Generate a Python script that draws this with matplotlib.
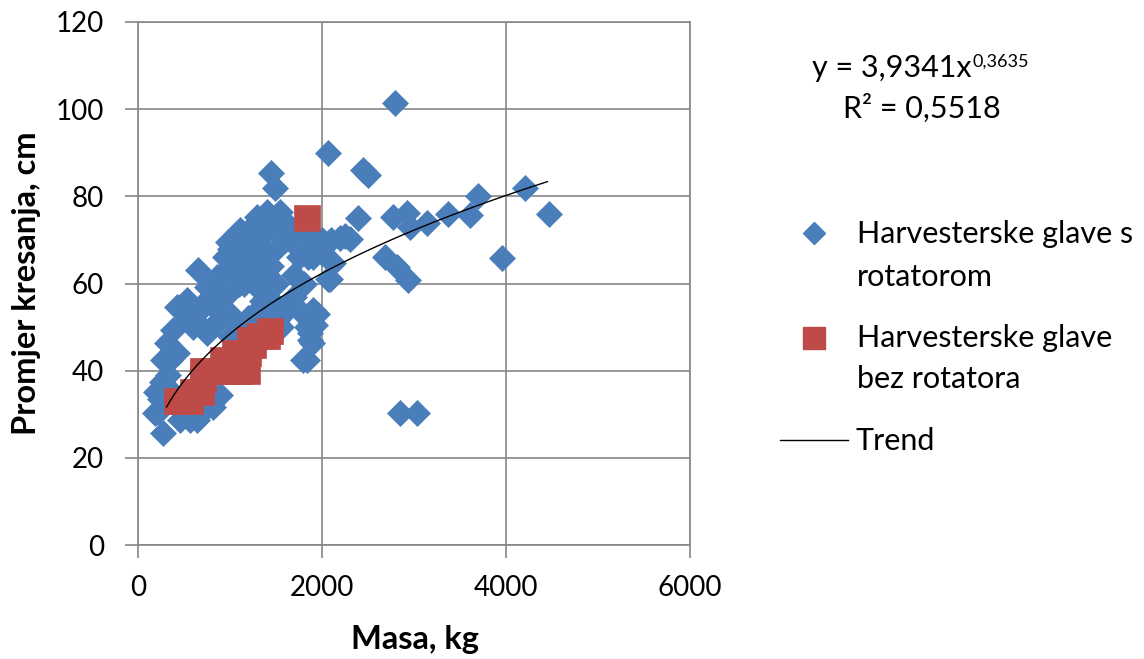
import numpy as np
import matplotlib
matplotlib.use("Agg")
import matplotlib.pyplot as plt
from matplotlib.lines import Line2D

plt.rcParams['font.family'] = ['Lato', 'DejaVu Sans']

# ---------------- data ----------------
# Harvesterske glave s rotatorom (mass kg, diameter cm)
blue_x = [272, 217, 240, 200, 180, 300, 348, 260, 330, 457, 565, 641, 750, 815, 891,
          380, 315, 348, 272, 424, 457, 533, 641, 750, 652, 533, 424, 750, 859, 978,
          1109, 1293, 1402, 1489, 1543, 1450,
          600, 700, 700, 800, 800, 800, 900, 900, 900, 1000, 1000, 1000, 1000, 1000,
          1100, 1100, 1100, 1100, 1200, 1200, 1200, 1200, 1300, 1300, 1300, 1300, 1300,
          1400, 1400, 1400, 1400, 1500, 1500, 1500, 1500, 1600, 1600, 1550,
          1700, 1700, 1700, 1800, 1800, 1900, 1900, 1620, 1511, 1794, 1870, 1794, 1891,
          1900, 1837, 1946, 1870, 1837, 1924, 2000, 2060, 2120, 2090, 2000, 2100, 2200,
          2300, 2250, 1980, 1850,
          2066, 2446, 2500, 2392, 2772, 2924, 2957, 3141, 3370, 3609, 3696, 4207, 4468,
          3957, 2685, 2815, 2935, 2848, 3033, 2794, 1000, 1200,
          1350, 1450, 1250, 1050, 950, 850, 1150, 1350, 1250, 1450, 1650, 1750]
blue_y = [25.7, 30.5, 33.5, 35.0, 30.3, 34.0, 35.6, 37.5, 39.0, 28.7, 28.7, 28.7, 31.7, 31.7, 34.4,
          49.3, 46.3, 42.4, 42.4, 44.0, 54.6, 51.6, 53.2, 48.6, 63.0, 56.2, 54.6, 59.2, 61.5, 69.6,
          72.3, 75.3, 76.4, 82.0, 76.4, 85.3,
          50.0, 55.0, 50.0, 60.0, 55.0, 50.0, 62.0, 57.0, 52.0, 68.0, 63.0, 58.0, 53.0, 48.0,
          70.0, 65.0, 60.0, 50.0, 72.0, 67.0, 62.0, 52.0, 74.0, 69.0, 64.0, 59.0, 54.0,
          72.0, 67.0, 62.0, 57.0, 73.0, 68.0, 60.0, 55.0, 74.0, 70.0, 50.0,
          72.0, 62.0, 57.0, 70.0, 60.0, 70.0, 66.0, 54.0, 51.6, 53.0, 48.6, 42.4, 46.3,
          54.0, 50.0, 53.0, 47.0, 42.5, 50.5, 70.0, 61.0, 64.7, 61.0, 67.0, 70.0, 70.5,
          70.3, 71.0, 67.7, 66.0,
          90.0, 86.0, 85.0, 75.0, 75.3, 76.2, 73.0, 73.9, 76.0, 75.7, 80.0, 82.0, 76.0,
          65.9, 66.0, 63.8, 60.8, 30.3, 30.3, 101.4, 64.0, 70.0,
          66.0, 64.0, 70.0, 71.0, 66.0, 58.0, 60.0, 56.0, 48.0, 51.0, 70.0, 66.0]

# Harvesterske glave bez rotatora
red_x = [424, 500, 565, 600, 680, 707, 707, 800, 924, 924, 1000, 1100, 1185, 1050,
         1200, 1250, 1217, 1326, 1402, 1435, 1837]
red_y = [33.0, 33.0, 33.0, 35.0, 35.0, 38.0, 40.0, 40.0, 42.5, 40.0, 41.0, 40.0, 40.0, 44.0,
         44.0, 46.0, 47.0, 48.0, 48.0, 49.0, 75.0]

# power trend: y = a * x^b
trend_a = 3.9341
trend_b = 0.3635
trend_x_min = 310
trend_x_max = 4450

x_ticks = [0, 2000, 4000, 6000]
y_ticks = [0, 20, 40, 60, 80, 100, 120]

label_blue = ["Harvesterske glave s", "rotatorom"]
label_red = ["Harvesterske glave", "bez rotatora"]

# ---------------- figure ----------------
W, H = 1144, 659
fig = plt.figure(figsize=(W / 100, H / 100), dpi=100)
ax = fig.add_axes([138 / W, 1 - 545 / H, (690 - 138) / W, (545 - 22) / H])

blue = '#4A7EBB'
red = '#BE4B48'
grid_c = '#868686'

ax.plot(blue_x, blue_y, linestyle='none', marker='D', markersize=13.5,
        markerfacecolor=blue, markeredgecolor=blue, markeredgewidth=0.5, zorder=3)
ax.plot(red_x, red_y, linestyle='none', marker='s', markersize=19,
        markerfacecolor=red, markeredgecolor=red, markeredgewidth=0.5, zorder=4)

tx = np.linspace(trend_x_min, trend_x_max, 300)
ty = trend_a * tx ** trend_b
ax.plot(tx, ty, color='black', linewidth=1.0, zorder=5)

ax.set_xlim(0, 6000)
ax.set_ylim(0, 120)
ax.set_xticks(x_ticks)
ax.set_yticks(y_ticks)
ax.grid(True, color=grid_c, linewidth=1.2, zorder=0)
ax.set_axisbelow(True)
for s in ax.spines.values():
    s.set_color(grid_c)
    s.set_linewidth(1.2)
ax.tick_params(axis='both', colors=grid_c, labelcolor='black', labelsize=20,
               length=9.4, width=1.2, direction='out')
ax.tick_params(axis='y', pad=15)
ax.tick_params(axis='x', pad=12)

fig.text(27 / W, 1 - 283 / H, "Promjer kresanja, cm", rotation=90,
         ha='center', va='center', fontsize=23.5, fontweight='bold')
fig.text(415 / W, 1 - 640 / H, "Masa, kg", ha='center', va='center',
         fontsize=23.5, fontweight='bold')

# equation
eq = fig.text(812 / W, 1 - 77 / H, "y = 3,9341x", ha='left', va='baseline', fontsize=22)
fig.canvas.draw()
bb = eq.get_window_extent(fig.canvas.get_renderer())
fig.text((bb.x1 + 1) / W, 1 - 67 / H, "0,3635", ha='left', va='baseline', fontsize=13)
fig.text(922 / W, 1 - 118 / H, "R² = 0,5518", ha='center', va='baseline', fontsize=22)

# legend (manual)
fig.add_artist(Line2D([814 / W], [1 - 233 / H], transform=fig.transFigure, marker='D',
                      markersize=11.5, color=blue, linestyle='none'))
fig.text(857 / W, 1 - 243 / H, label_blue[0], ha='left', va='baseline', fontsize=22)
fig.text(857 / W, 1 - 286 / H, label_blue[1], ha='left', va='baseline', fontsize=22)
fig.add_artist(Line2D([814 / W], [1 - 338 / H], transform=fig.transFigure, marker='s',
                      markersize=16.5, color=red, linestyle='none'))
fig.text(857 / W, 1 - 347 / H, label_red[0], ha='left', va='baseline', fontsize=22)
fig.text(857 / W, 1 - 388 / H, label_red[1], ha='left', va='baseline', fontsize=22)
fig.add_artist(Line2D([780 / W, 848 / W], [1 - 440 / H, 1 - 440 / H],
                      transform=fig.transFigure, color='black', linewidth=1.0))
fig.text(855 / W, 1 - 450 / H, "Trend", ha='left', va='baseline', fontsize=22)

fig.savefig("out.png", dpi=100)
